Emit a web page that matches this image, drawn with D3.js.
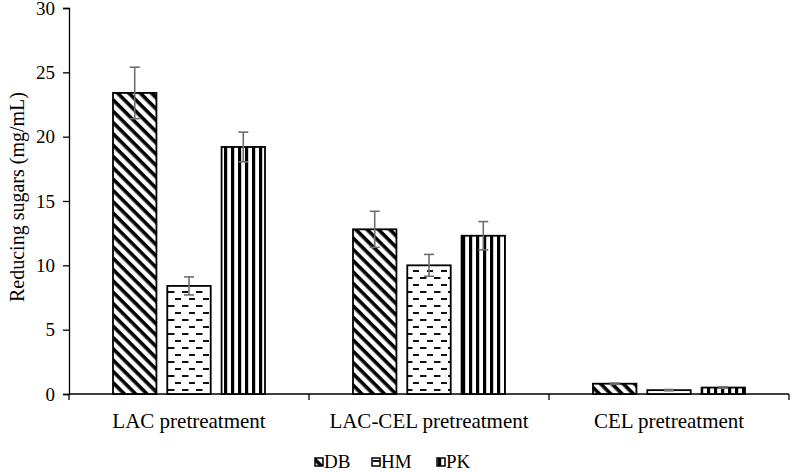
<!DOCTYPE html>
<html>
<head>
<meta charset="utf-8">
<script src="https://cdn.jsdelivr.net/npm/d3@7"></script>
<style>
  body { margin: 0; background: #fff; }
  svg text { font-family: "Liberation Serif", "Times New Roman", serif; fill: #000; }
</style>
</head>
<body>
<svg id="chart" width="800" height="472"></svg>
<script>
// ----------------------------
// Data
// ----------------------------
const categories = ["LAC pretreatment", "LAC-CEL pretreatment", "CEL pretreatment"];
const series = ["DB", "HM", "PK"];
const valuesDB = [23.4, 12.8, 0.8];
const valuesHM = [8.4, 10.0, 0.3];
const valuesPK = [19.2, 12.3, 0.5];
const errorsDB = [2.0, 1.4, 0.05];
const errorsHM = [0.7, 0.85, 0.05];
const errorsPK = [1.15, 1.1, 0.05];
const yTicks = [0, 5, 10, 15, 20, 25, 30];

const values = { DB: valuesDB, HM: valuesHM, PK: valuesPK };
const errors = { DB: errorsDB, HM: errorsHM, PK: errorsPK };

// ----------------------------
// Setup
// ----------------------------
const svg = d3.select("#chart");
const margin = { top: 8, right: 11, bottom: 78, left: 69 };
const innerW = 800 - margin.left - margin.right;
const innerH = 472 - margin.top - margin.bottom;

const defs = svg.append("defs");

// DB: diagonal stripes, top-left to bottom-right
const pDB = defs.append("pattern")
  .attr("id", "pat-DB").attr("patternUnits", "userSpaceOnUse")
  .attr("width", 8).attr("height", 8)
  .attr("patternTransform", "rotate(45)");
pDB.append("rect").attr("width", 8).attr("height", 8).attr("fill", "#fff");
pDB.append("rect").attr("width", 8).attr("height", 3.6).attr("fill", "#000");

// HM: staggered dashes
const pHM = defs.append("pattern")
  .attr("id", "pat-HM").attr("patternUnits", "userSpaceOnUse")
  .attr("width", 14).attr("height", 14);
pHM.append("rect").attr("width", 14).attr("height", 14).attr("fill", "#fff");
pHM.append("rect").attr("x", 1).attr("y", 3).attr("width", 6.5).attr("height", 2).attr("fill", "#111");
pHM.append("rect").attr("x", 8).attr("y", 10).attr("width", 6.5).attr("height", 2).attr("fill", "#111");

// PK: vertical stripes
const pPK = defs.append("pattern")
  .attr("id", "pat-PK").attr("patternUnits", "userSpaceOnUse")
  .attr("width", 7).attr("height", 7);
pPK.append("rect").attr("width", 7).attr("height", 7).attr("fill", "#fff");
pPK.append("rect").attr("x", 1).attr("width", 3.2).attr("height", 7).attr("fill", "#000");

const g = svg.append("g")
  .attr("transform", `translate(${margin.left},${margin.top})`);

const x0 = d3.scaleBand().domain(categories).range([0, innerW]).paddingInner(0).paddingOuter(0);
const x1 = d3.scaleBand().domain(series).range([44, x0.bandwidth() - 44]).paddingInner(0.2).paddingOuter(0);
const y = d3.scaleLinear().domain([0, 30]).range([innerH, 0]);

// ----------------------------
// Axes
// ----------------------------
const yAxis = g.append("g")
  .call(d3.axisLeft(y).tickValues(yTicks).tickSize(6).tickPadding(8));
yAxis.select(".domain").attr("stroke", "#000").attr("stroke-width", 1.3);
yAxis.selectAll(".tick line").attr("stroke", "#000").attr("stroke-width", 1.3);
yAxis.selectAll(".tick text").style("font-size", "19px")
  .style("font-family", "Liberation Serif");

const xAxisG = g.append("g").attr("transform", `translate(0,${innerH})`);
xAxisG.append("line").attr("x1", 0).attr("x2", innerW)
  .attr("stroke", "#000").attr("stroke-width", 1.3);
const boundaries = categories.map(c => x0(c)).concat([innerW]);
xAxisG.selectAll("line.tk").data(boundaries).join("line")
  .attr("class", "tk")
  .attr("x1", d => d).attr("x2", d => d).attr("y1", 0).attr("y2", 6)
  .attr("stroke", "#000").attr("stroke-width", 1.3);
xAxisG.selectAll("text.cat").data(categories).join("text")
  .attr("class", "cat")
  .attr("x", d => x0(d) + x0.bandwidth() / 2)
  .attr("y", 34)
  .attr("text-anchor", "middle")
  .style("font-size", "21px")
  .text(d => d);

svg.append("text")
  .attr("transform", `translate(24,${margin.top + innerH / 2 - 4}) rotate(-90)`)
  .attr("text-anchor", "middle")
  .style("font-size", "20px")
  .text("Reducing sugars (mg/mL)");

// ----------------------------
// Bars
// ----------------------------
const rows = [];
categories.forEach((c, i) => {
  series.forEach(s => rows.push({ c, s, v: values[s][i], e: errors[s][i] }));
});

g.selectAll("rect.bar").data(rows).join("rect")
  .attr("class", "bar")
  .attr("x", d => x0(d.c) + x1(d.s))
  .attr("y", d => y(d.v))
  .attr("width", x1.bandwidth())
  .attr("height", d => innerH - y(d.v))
  .attr("fill", d => `url(#pat-${d.s})`)
  .attr("stroke", "#000")
  .attr("stroke-width", 1.8);

// error bars
const eb = g.selectAll("g.err").data(rows).join("g").attr("class", "err")
  .attr("stroke", "#6e6e6e").attr("stroke-width", 1.6);
const cx = d => x0(d.c) + x1(d.s) + x1.bandwidth() / 2;
eb.append("line")
  .attr("x1", cx).attr("x2", cx)
  .attr("y1", d => y(d.v + d.e)).attr("y2", d => y(d.v - d.e));
eb.append("line")
  .attr("x1", d => cx(d) - 5).attr("x2", d => cx(d) + 5)
  .attr("y1", d => y(d.v + d.e)).attr("y2", d => y(d.v + d.e));
eb.append("line")
  .attr("x1", d => cx(d) - 5).attr("x2", d => cx(d) + 5)
  .attr("y1", d => y(d.v - d.e)).attr("y2", d => y(d.v - d.e));

// ----------------------------
// Legend
// ----------------------------
const legendX = [315, 372, 437];
const legend = svg.append("g").attr("transform", "translate(0,457)");
const li = legend.selectAll("g").data(series).join("g")
  .attr("transform", (d, i) => `translate(${legendX[i]},0)`);
li.append("rect").attr("y", 1).attr("width", 8).attr("height", 8)
  .attr("fill", d => `url(#pat-${d})`).attr("stroke", "#000").attr("stroke-width", 1.5);
li.append("text").attr("x", 9).attr("y", 11)
  .style("font-size", "19px").text(d => d);
</script>
</body>
</html>
